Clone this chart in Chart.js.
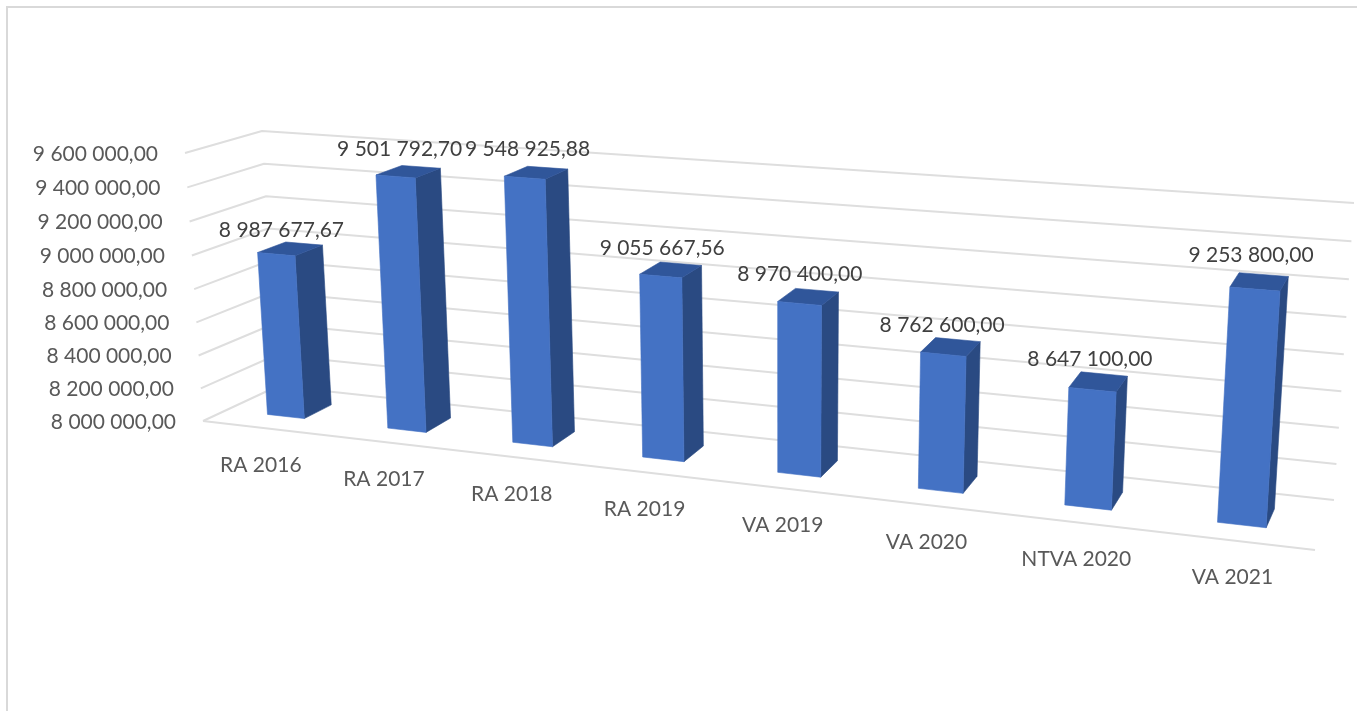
<!DOCTYPE html>
<html>
<head>
<meta charset="utf-8">
<style>
html,body{margin:0;padding:0;background:#fff;overflow:hidden}
#wrap{position:absolute;left:0;top:0;width:1357px;height:711px}
#frame{position:absolute;left:6px;top:6px;width:1351px;height:705px;border-top:2px solid #d9d9d9;border-left:2px solid #d9d9d9;box-sizing:border-box}
canvas{position:absolute;left:0;top:0}
</style>
<script src="https://cdn.jsdelivr.net/npm/chart.js@4"></script>
</head>
<body>
<div id="wrap"><div id="frame"></div><canvas id="c" width="1357" height="711"></canvas></div>
<script>
const categories = ["RA 2016","RA 2017","RA 2018","RA 2019","VA 2019","VA 2020","NTVA 2020","VA 2021"];
const values = [8987677.67, 9501792.70, 9548925.88, 9055667.56, 8970400.00, 8762600.00, 8647100.00, 9253800.00];
const axisMin = 8000000;
const axisMax = 9600000;
const axisStep = 200000;

// Camera of the 3D view: where the unit box lands on the page (BL, BR, TR, TL).
const frontQuad = [[203,421],[1315,550],[1335,239],[185,153]];
const backQuad  = [[278,386],[1334,500],[1354,203],[262,131]];
const barDepth = [0.32, 0.70];

function homography(q){
  const [p0,p1,p2,p3] = q;
  const dx1=p1[0]-p2[0], dx2=p3[0]-p2[0], dx3=p0[0]-p1[0]+p2[0]-p3[0];
  const dy1=p1[1]-p2[1], dy2=p3[1]-p2[1], dy3=p0[1]-p1[1]+p2[1]-p3[1];
  const den=dx1*dy2-dx2*dy1;
  const g=(dx3*dy2-dx2*dy3)/den, h=(dx1*dy3-dx3*dy1)/den;
  const a=p1[0]-p0[0]+g*p1[0], b=p3[0]-p0[0]+h*p3[0], c=p0[0];
  const d=p1[1]-p0[1]+g*p1[1], e=p3[1]-p0[1]+h*p3[1], f=p0[1];
  return (u,v)=>{const k=g*u+h*v+1;return [(a*u+b*v+c)/k,(d*u+e*v+f)/k];};
}
const hFront=homography(frontQuad), hBack=homography(backQuad);
function project(u,v,w){
  const F=hFront(u,v), B=hBack(u,v);
  return [F[0]+(B[0]-F[0])*w, F[1]+(B[1]-F[1])*w];
}
function fmt(n){
  const s=n.toFixed(2).split('.');
  return s[0].replace(/\B(?=(\d{3})+(?!\d))/g,' ')+','+s[1];
}
function poly(ctx,pts,color){
  ctx.beginPath();
  pts.forEach((p,i)=>i?ctx.lineTo(p[0],p[1]):ctx.moveTo(p[0],p[1]));
  ctx.closePath();
  ctx.fillStyle=color;
  ctx.strokeStyle=color;
  ctx.lineWidth=0.6;
  ctx.fill();
  ctx.stroke();
}
const FONT='Lato, "Open Sans", sans-serif';

const view3d={
  id:'view3d',
  beforeDatasetsDraw(chart){
    const ctx=chart.ctx, area=chart.chartArea;
    const U=x=>(x-area.left)/(area.right-area.left);
    const V=y=>(area.bottom-y)/(area.bottom-area.top);
    const xs=chart.scales.x, ys=chart.scales.y;
    ctx.save();
    ctx.filter='blur(0.6px)';

    // walls and floor edge
    ctx.strokeStyle='#dedede';
    ctx.lineWidth=2;
    ctx.lineJoin='round';
    ys.ticks.forEach(t=>{
      const v=V(ys.getPixelForValue(t.value));
      const a=project(0,v,0), b=project(0,v,1), c=project(1,v,1);
      ctx.beginPath();ctx.moveTo(a[0],a[1]);ctx.lineTo(b[0],b[1]);ctx.lineTo(c[0],c[1]);ctx.stroke();
    });
    const f0=project(0,0,0), f1=project(1,0,0);
    ctx.beginPath();ctx.moveTo(f0[0],f0[1]);ctx.lineTo(f1[0],f1[1]);ctx.stroke();

    // boxes
    const bars=chart.getDatasetMeta(0).data;
    bars.forEach(b=>{
      const u0=U(b.x-b.width/2), u1=U(b.x+b.width/2), top=V(b.y), base=V(b.base);
      const [d0,d1]=barDepth;
      poly(ctx,[project(u1,base,d0),project(u1,base,d1),project(u1,top,d1),project(u1,top,d0)],'#2A4A82');
      poly(ctx,[project(u0,top,d0),project(u1,top,d0),project(u1,top,d1),project(u0,top,d1)],'#30569A');
      poly(ctx,[project(u0,base,d0),project(u1,base,d0),project(u1,top,d0),project(u0,top,d0)],'#4472C4');
    });
    ctx.filter='none';

    // value axis labels
    ctx.font='21px '+FONT;
    ctx.fillStyle='#595959';
    ctx.textAlign='right';
    ctx.textBaseline='middle';
    ys.ticks.forEach(t=>{
      const p=project(0,V(ys.getPixelForValue(t.value)),0);
      ctx.fillText(t.label,p[0]-27,p[1]+1);
    });

    // category labels
    ctx.textAlign='center';
    xs.ticks.forEach((t,i)=>{
      const p=project(U(xs.getPixelForTick(i)),0,0);
      ctx.fillText(categories[i],p[0]-2,p[1]+37);
    });

    // value labels
    ctx.fillStyle='#404040';
    bars.forEach((b,i)=>{
      const v=V(b.y);
      const px=project(U(b.x),v,0.5), py=project(U(b.x),v,1);
      ctx.fillText(fmt(values[i]),px[0]-8,py[1]-11+15*(1-v));
    });
    ctx.restore();
    return false;
  }
};

new Chart(document.getElementById('c'),{
  type:'bar',
  data:{labels:categories,datasets:[{data:values,base:axisMin,backgroundColor:'#4472C4',barPercentage:0.31,categoryPercentage:1}]},
  options:{
    responsive:false,
    animation:false,
    layout:{padding:{left:200,right:40,top:130,bottom:160}},
    plugins:{legend:{display:false},tooltip:{enabled:false},title:{display:false}},
    scales:{
      x:{type:'category',grid:{display:false},border:{display:false},ticks:{display:false}},
      y:{type:'linear',min:axisMin,max:axisMax,grid:{display:false},border:{display:false},
         ticks:{display:false,stepSize:axisStep,callback:v=>fmt(v)}}
    }
  },
  plugins:[view3d]
});
</script>
</body>
</html>
